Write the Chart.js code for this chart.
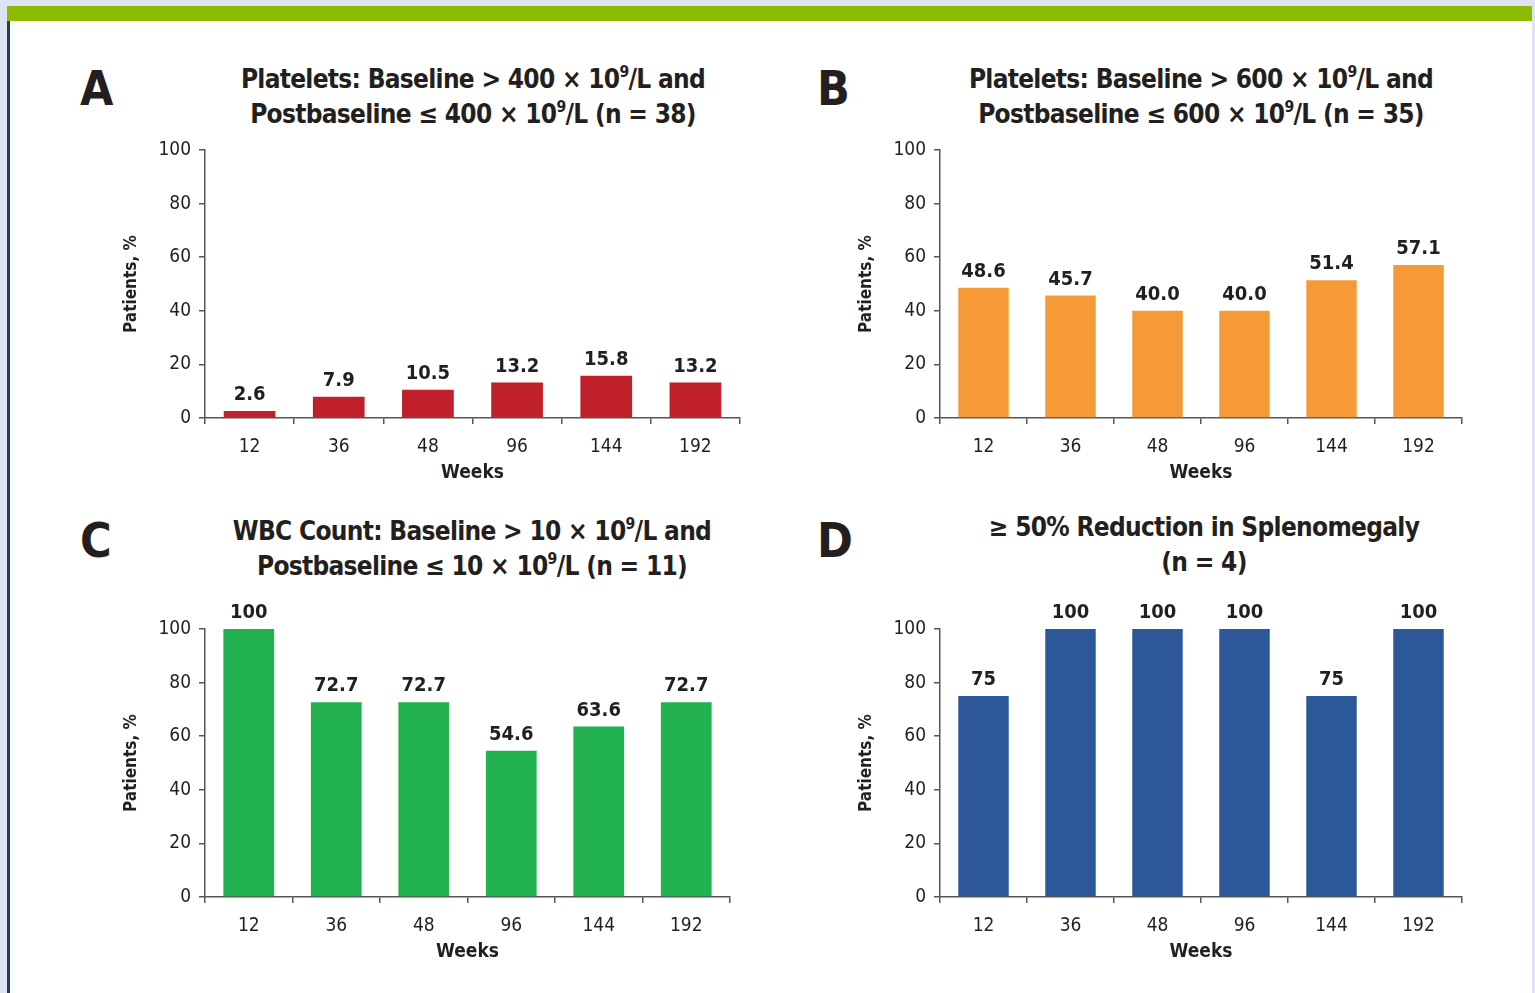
<!DOCTYPE html>
<html>
<head>
<meta charset="utf-8">
<script src="https://cdn.jsdelivr.net/npm/chart.js@4/dist/chart.umd.min.js"></script>
<style>
  html, body { margin: 0; padding: 0; }
  body { width: 1535px; height: 993px; background: #dde3f2; position: relative; overflow: hidden;
         font-family: "Liberation Sans Narrow", "DejaVu Sans Condensed", "Roboto Condensed", sans-serif; color: #231f20; }
  #green { position: absolute; left: 7px; top: 6px; width: 1525px; height: 15px; background: #8cbb00; }
  #sheet { position: absolute; left: 10px; top: 21px; width: 1522px; height: 972px; background: #fff; }
  #edge { position: absolute; left: 7px; top: 21px; width: 3px; height: 972px; background: #2b3a4e; }
  .letter { position: absolute; font-size: 48px; font-weight: bold; line-height: 1; }
  .title { position: absolute; width: 600px; font-size: 26px; letter-spacing: -0.7px; font-weight: bold; text-align: center; line-height: 35px; white-space: nowrap; }
  .title sup { font-size: 0.6em; line-height: 0; vertical-align: 0.7em; }
  canvas { position: absolute; }
</style>
</head>
<body>
<div id="green"></div>
<div id="sheet"></div>
<div id="edge"></div>

<div class="letter" style="left:80px;top:64px">A</div>
<div class="letter" style="left:817px;top:64px">B</div>
<div class="letter" style="left:80px;top:516px">C</div>
<div class="letter" style="left:817px;top:516px">D</div>

<div class="title" style="left:173px;top:62px">Platelets: Baseline &gt; 400 × 10<sup>9</sup>/L and<br>Postbaseline ≤ 400 × 10<sup>9</sup>/L (n = 38)</div>
<div class="title" style="left:901px;top:62px">Platelets: Baseline &gt; 600 × 10<sup>9</sup>/L and<br>Postbaseline ≤ 600 × 10<sup>9</sup>/L (n = 35)</div>
<div class="title" style="left:172px;top:514px">WBC Count: Baseline &gt; 10 × 10<sup>9</sup>/L and<br>Postbaseline ≤ 10 × 10<sup>9</sup>/L (n = 11)</div>
<div class="title" style="left:904px;top:510px">≥ 50% Reduction in Splenomegaly<br>(n = 4)</div>

<canvas id="chartA" width="645" height="378" style="left:100px;top:110px"></canvas>
<canvas id="chartB" width="632" height="378" style="left:835px;top:110px"></canvas>
<canvas id="chartC" width="635" height="378" style="left:100px;top:589px"></canvas>
<canvas id="chartD" width="632" height="378" style="left:835px;top:589px"></canvas>

<script>
// data
var weeks = ['12', '36', '48', '96', '144', '192'];
var plateletsOver400 = [2.6, 7.9, 10.5, 13.2, 15.8, 13.2];
var plateletsOver600 = [48.6, 45.7, 40.0, 40.0, 51.4, 57.1];
var wbcOver10 = [100, 72.7, 72.7, 54.6, 63.6, 72.7];
var spleenReduction = [75, 100, 100, 100, 75, 100];
var yTicks = [0, 20, 40, 60, 80, 100];

var FONT = '"Liberation Sans Narrow", "DejaVu Sans Condensed", "Roboto Condensed", sans-serif';
var INK = '#231f20';
var AXIS = '#555555';

// draws the value above each bar
var barValues = {
  id: 'barValues',
  afterDatasetsDraw: function (chart, args, opts) {
    var ctx = chart.ctx;
    var meta = chart.getDatasetMeta(0);
    var vals = chart.data.datasets[0].data;
    ctx.save();
    ctx.font = 'bold 20px ' + FONT;
    ctx.fillStyle = INK;
    ctx.textAlign = 'center';
    ctx.textBaseline = 'bottom';
    meta.data.forEach(function (bar, i) {
      var v = vals[i];
      var txt = v === 100 ? '100' : v.toFixed(opts.decimals);
      ctx.fillText(txt, bar.x, bar.y - 6);
    });
    ctx.restore();
  }
};

function makeChart(id, values, color, decimals) {
  var el = document.getElementById(id);
  return new Chart(el, {
    type: 'bar',
    data: {
      labels: weeks,
      datasets: [{
        data: values,
        backgroundColor: color,
        borderWidth: 0,
        barPercentage: 0.58,
        categoryPercentage: 1
      }]
    },
    options: {
      responsive: false,
      animation: false,
      layout: { padding: { top: 40, right: 5, left: 0, bottom: 0 } },
      plugins: {
        legend: { display: false },
        tooltip: { enabled: false },
        barValues: { decimals: decimals }
      },
      scales: {
        x: {
          afterFit: function (s) { s.height = 70; },
          border: { color: AXIS, width: 1.5 },
          grid: { display: true, offset: true, drawOnChartArea: false, drawTicks: true, tickLength: 6, color: AXIS, lineWidth: 1.5 },
          ticks: { color: INK, font: { family: FONT, size: 19 }, padding: 12 },
          title: { display: true, text: 'Weeks', color: INK, font: { family: FONT, size: 19, weight: 'bold' }, padding: { top: 0, bottom: 4 } }
        },
        y: {
          min: 0,
          max: 100,
          afterFit: function (s) { s.width = 105; },
          afterBuildTicks: function (s) { s.ticks = yTicks.map(function (v) { return { value: v }; }); },
          border: { color: AXIS, width: 1.5 },
          grid: { display: true, drawOnChartArea: false, drawTicks: true, tickLength: 6, color: AXIS, lineWidth: 1.5 },
          ticks: { color: INK, font: { family: FONT, size: 19 }, padding: 8 },
          title: { display: true, text: 'Patients, %', color: INK, font: { family: FONT, size: 17, weight: 'bold' }, padding: { top: 21, bottom: 0 } }
        }
      }
    },
    plugins: [barValues]
  });
}

makeChart('chartA', plateletsOver400, '#c0202a', 1);
makeChart('chartB', plateletsOver600, '#f69a38', 1);
makeChart('chartC', wbcOver10, '#21b24f', 1);
makeChart('chartD', spleenReduction, '#2c5899', 0);
</script>
</body>
</html>
